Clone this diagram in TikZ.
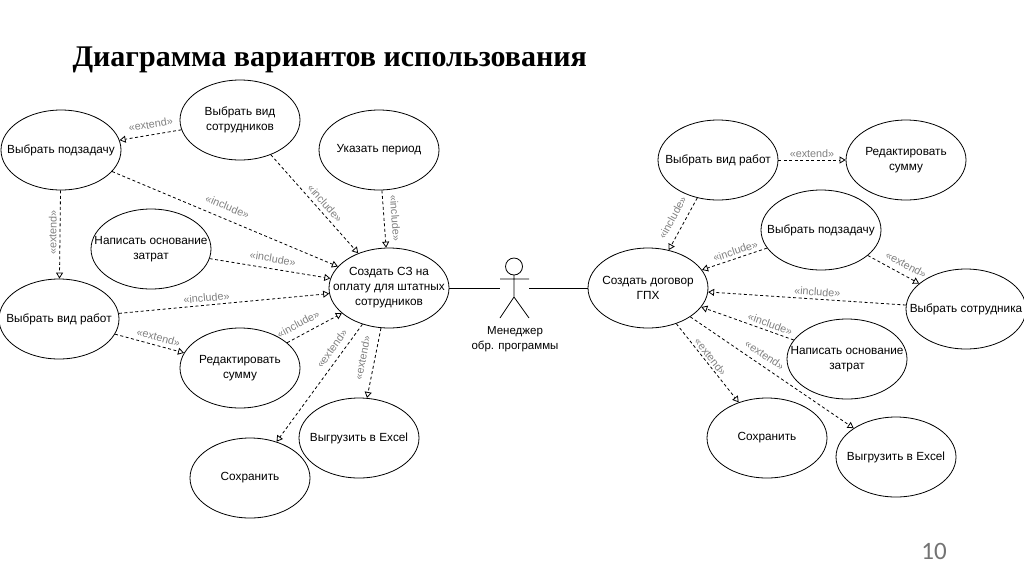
\documentclass[tikz,border=0pt]{standalone}
\usepackage{fontspec}
\setmainfont{Liberation Sans}
\newfontfamily\headfont{Liberation Serif}
\newfontfamily\numfont{Carlito}
\usetikzlibrary{shapes.geometric,arrows.meta}
\tikzset{
 usecase/.style={ellipse,draw,line width=.8pt,minimum width=120pt,minimum height=80pt,
  inner xsep=-22pt,inner ysep=0pt,align=center,font=\fontsize{11.8}{15}\selectfont},
 stereo/.style={sloped,text=black!50,inner sep=1pt,font=\fontsize{10.8}{12}\selectfont},
 dep/.style={dashed,dash pattern=on 3pt off 2.5pt,line width=.8pt,
  -{Triangle[open,length=6pt,width=7pt]}},
}
\begin{document}
\begin{tikzpicture}[x=1pt,y=-1pt,line cap=butt]
 \useasboundingbox (0,0) rectangle (1024,574);
 \node[anchor=base west,font=\headfont\bfseries\fontsize{30}{32}\selectfont] (title) at (69,66) {Диаграмма вариантов использования};
 \node[text=black!55,font=\numfont\fontsize{25}{28}\selectfont] (pagenum) at (934,551) {10};
 % left part
 \node[usecase] (typeL) at (240,120) {Выбрать вид\\сотрудников};
 \node[usecase] (subL) at (61,150) {Выбрать подзадачу};
 \node[usecase] (period) at (379,150) {Указать период};
 \node[usecase] (reasonL) at (151,249) {Написать основание\\затрат};
 \node[usecase] (memo) at (389,288) {Создать СЗ на\\оплату для штатных\\сотрудников};
 \node[usecase] (workL) at (59,319) {Выбрать вид работ};
 \node[usecase] (sumL) at (240,368) {Редактировать\\сумму};
 \node[usecase] (saveL) at (250,478) {Сохранить};
 \node[usecase] (excelL) at (359,438) {Выгрузить в Excel};
 % right part
 \node[usecase] (workR) at (718,160) {Выбрать вид работ};
 \node[usecase] (sumR) at (906,160) {Редактировать\\сумму};
 \node[usecase] (subR) at (821,230) {Выбрать подзадачу};
 \node[usecase] (contract) at (648,288) {Создать договор\\ГПХ};
 \node[usecase] (staffR) at (966,309) {Выбрать сотрудника};
 \node[usecase] (reasonR) at (847,359) {Написать основание\\затрат};
 \node[usecase] (saveR) at (767,438) {Сохранить};
 \node[usecase] (excelR) at (896,457) {Выгрузить в Excel};
 % actor
 \node[minimum width=29pt,minimum height=60pt,inner sep=0pt] (manager) at (514.5,288) {};
 \draw[line width=.8pt] (514,266.5) circle[radius=8.5pt];
 \draw[line width=.8pt] (514,275)--(514,297) (500,279)--(529,279) (500,318)--(514,297)--(529,318);
 \node[align=center,font=\fontsize{11.5}{14.5}\selectfont] (managertext) at (515,339) {Менеджер\\обр. программы};
 \draw[line width=.8pt] (memo)--(manager);
 \draw[line width=.8pt] (manager)--(contract);
 % dependencies
 \foreach \from/\to/\kind/\where/\gap [count=\i] in {
  typeL/subL/extend/.47/5,subL/workL/extend/.48/2,subL/memo/include/.49/7,typeL/memo/include/.55/3,
  period/memo/include/.5/6,reasonL/memo/include/.51/5,workL/memo/include/.42/2,workL/sumL/extend/.6/3,
  sumL/memo/include/.3/6,memo/saveL/extend/.26/5,memo/excelL/extend/.46/7,
  workR/sumR/extend/.5/1,workR/contract/include/.49/7,subR/contract/include/.45/2,
  subR/staffR/extend/.65/5,staffR/contract/include/.45/2,reasonR/contract/include/.28/2,
  contract/excelR/extend/.42/5,contract/saveR/extend/.47/1}{
  \draw[dep] (\from)--node[stereo,pos=\where,above=\gap pt] (stereo\i) {«\kind»} (\to);
 }
\end{tikzpicture}
\end{document}
